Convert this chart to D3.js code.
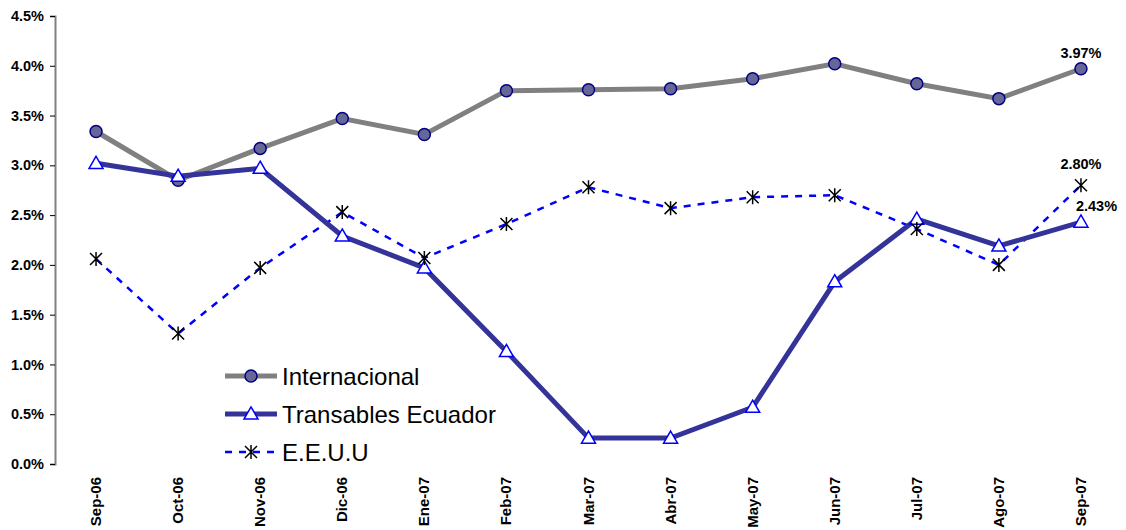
<!DOCTYPE html>
<html>
<head>
<meta charset="utf-8">
<script src="https://cdn.jsdelivr.net/npm/d3@7"></script>
<style>
  body { margin: 0; background: #fff; }
  svg { font-family: Arial, "Liberation Sans", sans-serif; }
</style>
</head>
<body>
<svg id="chart" width="1126" height="530"></svg>
<script>
// months on the x axis
const months = ["Sep-06", "Oct-06", "Nov-06", "Dic-06", "Ene-07", "Feb-07", "Mar-07",
  "Abr-07", "May-07", "Jun-07", "Jul-07", "Ago-07", "Sep-07"];
// series values (percent)
const internacional = [3.34, 2.85, 3.17, 3.47, 3.31, 3.75, 3.76, 3.77, 3.87, 4.02, 3.82, 3.67, 3.97];
const transables = [3.02, 2.89, 2.97, 2.29, 1.97, 1.13, 0.26, 0.26, 0.57, 1.83, 2.46, 2.19, 2.43];
const eeuu = [2.06, 1.31, 1.97, 2.53, 2.07, 2.41, 2.78, 2.57, 2.68, 2.70, 2.36, 2.00, 2.80];
const yTicks = [0, 0.5, 1, 1.5, 2, 2.5, 3, 3.5, 4, 4.5];

var svg = d3.select('#chart');

var x = d3.scalePoint()
    .domain(months)
    .range([55, 1122])
    .padding(0.5);

var y = d3.scaleLinear()
    .domain([0, 4.5])
    .range([464, 16]);

// y axis
var yAxis = svg.append('g')
    .attr('transform', 'translate(55,0)')
    .call(d3.axisLeft(y).tickValues(yTicks).tickSize(5).tickFormat(d => d.toFixed(1) + '%'));
yAxis.select('.domain').attr('stroke', '#808080').attr('stroke-width', 2);
yAxis.selectAll('.tick line').attr('stroke', '#000');
yAxis.selectAll('.tick text')
    .attr('x', -11)
    .style('font-size', '14.5px')
    .style('font-weight', 'bold')
    .attr('fill', '#000');

// x labels (no axis line)
svg.append('g').selectAll('text')
    .data(months)
    .enter().append('text')
    .attr('transform', d => 'translate(' + (x(d) + 5) + ',477) rotate(-90)')
    .attr('text-anchor', 'end')
    .style('font-size', '15px')
    .style('font-weight', 'bold')
    .text(d => d);

var line = d3.line()
    .x((d, i) => x(months[i]))
    .y(d => y(d));

// E.E.U.U dashed
svg.append('path')
    .datum(eeuu)
    .attr('d', line)
    .attr('fill', 'none')
    .attr('stroke', '#0000ff')
    .attr('stroke-width', 2.5)
    .attr('stroke-dasharray', '7,7');

// Internacional
svg.append('path')
    .datum(internacional)
    .attr('d', line)
    .attr('fill', 'none')
    .attr('stroke', '#808080')
    .attr('stroke-width', 5);

// Transables
svg.append('path')
    .datum(transables)
    .attr('d', line)
    .attr('fill', 'none')
    .attr('stroke', '#333399')
    .attr('stroke-width', 5);

function star(g, cx, cy) {
  var s = 6;
  g.append('path')
    .attr('d', 'M' + (cx - s) + ',' + (cy - s) + 'L' + (cx + s) + ',' + (cy + s) +
      'M' + (cx + s) + ',' + (cy - s) + 'L' + (cx - s) + ',' + (cy + s) +
      'M' + cx + ',' + (cy - s - 1) + 'L' + cx + ',' + (cy + s + 1))
    .attr('stroke', '#000')
    .attr('stroke-width', 1.5);
}
var tri = d3.symbol().type(d3.symbolTriangle).size(85);

// markers
svg.append('g').selectAll('circle')
    .data(internacional)
    .enter().append('circle')
    .attr('cx', (d, i) => x(months[i]))
    .attr('cy', d => y(d))
    .attr('r', 6)
    .attr('fill', '#666699')
    .attr('stroke', '#000080')
    .attr('stroke-width', 1.5);

svg.append('g').selectAll('path')
    .data(transables)
    .enter().append('path')
    .attr('d', tri)
    .attr('transform', (d, i) => 'translate(' + x(months[i]) + ',' + (y(d) + 1) + ')')
    .attr('fill', '#fff')
    .attr('stroke', '#0000ff')
    .attr('stroke-width', 1.5);

var starG = svg.append('g');
eeuu.forEach((d, i) => star(starG, x(months[i]), y(d)));

// end labels
var last = months.length - 1;
var labels = [
  { v: internacional[last], dx: 0, dy: -11, anchor: 'middle' },
  { v: eeuu[last], dx: 0, dy: -16, anchor: 'middle' },
  { v: transables[last], dx: -5, dy: -11, anchor: 'start' }
];
svg.append('g').selectAll('text')
    .data(labels)
    .enter().append('text')
    .attr('x', d => x(months[last]) + d.dx)
    .attr('y', d => y(d.v) + d.dy)
    .attr('text-anchor', d => d.anchor)
    .style('font-size', '14.5px')
    .style('font-weight', 'bold')
    .text(d => d.v.toFixed(2) + '%');

// legend
var legend = svg.append('g').attr('transform', 'translate(225,376)');
var rows = [
  { name: 'Internacional', color: '#808080', w: 5, dash: null, mark: 'circle' },
  { name: 'Transables Ecuador', color: '#333399', w: 5, dash: null, mark: 'tri' },
  { name: 'E.E.U.U', color: '#0000ff', w: 2.5, dash: '7,7', mark: 'star' }
];
rows.forEach((r, i) => {
  var g = legend.append('g').attr('transform', 'translate(0,' + (i * 38) + ')');
  g.append('line')
    .attr('x1', 0).attr('x2', 52)
    .attr('stroke', r.color)
    .attr('stroke-width', r.w)
    .attr('stroke-dasharray', r.dash);
  if (r.mark === 'circle') {
    g.append('circle').attr('cx', 26).attr('r', 6)
      .attr('fill', '#666699').attr('stroke', '#000080').attr('stroke-width', 1.5);
  } else if (r.mark === 'tri') {
    g.append('path').attr('d', tri).attr('transform', 'translate(26,1)')
      .attr('fill', '#fff').attr('stroke', '#0000ff').attr('stroke-width', 1.5);
  } else {
    star(g, 26, 0);
  }
  g.append('text')
    .attr('x', 57)
    .attr('y', 9)
    .style('font-size', '24px')
    .text(r.name);
});
</script>
</body>
</html>
